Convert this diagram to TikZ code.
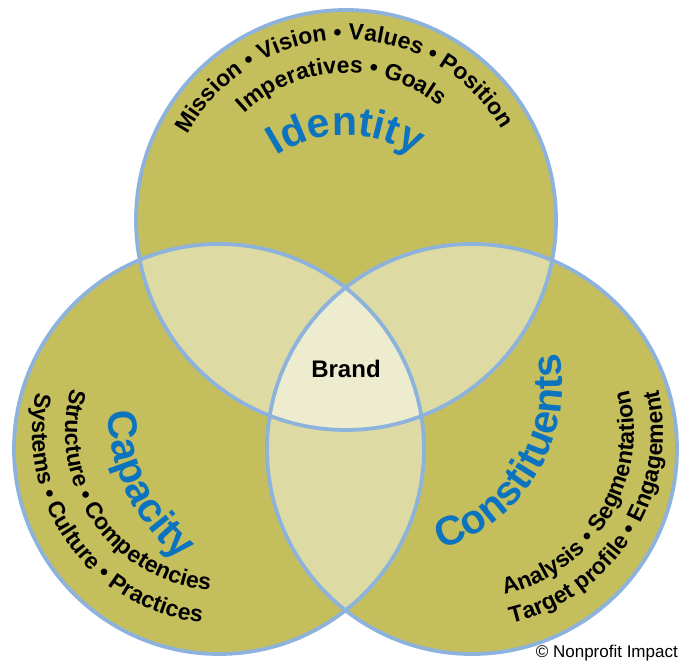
\documentclass[tikz,border=0pt]{standalone}
\usepackage{fontspec}
\setmainfont{Liberation Sans}
\usetikzlibrary{decorations.text}
\definecolor{olivefill}{RGB}{197,190,93}
\definecolor{lensfill}{RGB}{221,219,163}
\definecolor{corefill}{RGB}{237,236,206}
\definecolor{ringblue}{RGB}{141,179,221}
\definecolor{wordblue}{RGB}{12,116,190}
\newcommand\blk{\fontsize{23}{23}\selectfont\bfseries}
\newcommand\blu{\fontsize{41}{41}\selectfont\bfseries\color{wordblue}}
\tikzset{
  ring/.style={draw=ringblue, line width=3.8pt},
}
\begin{document}
\begin{tikzpicture}[x=1pt,y=1pt]
\useasboundingbox (0,0) rectangle (680,662);
\fill[white] (0,0) rectangle (680,662);
% centres (y up)
\coordinate (ct) at (346,442);
\coordinate (cl) at (219,213);
\coordinate (cr) at (472,213);
% base fills
\fill[olivefill] (ct) circle[radius=210];
\fill[olivefill] (cl) circle[radius=205];
\fill[olivefill] (cr) circle[radius=205];
% pairwise overlaps
\begin{scope}
  \clip (ct) circle[radius=210];
  \fill[lensfill] (cl) circle[radius=205];
  \fill[lensfill] (cr) circle[radius=205];
\end{scope}
\begin{scope}
  \clip (cl) circle[radius=205];
  \fill[lensfill] (cr) circle[radius=205];
\end{scope}
% triple overlap
\begin{scope}
  \clip (ct) circle[radius=210];
  \clip (cl) circle[radius=205];
  \fill[corefill] (cr) circle[radius=205];
\end{scope}
% rings
\draw[ring] (ct) circle[radius=210];
\draw[ring] (cl) circle[radius=205];
\draw[ring] (cr) circle[radius=205];

% ---- Identity circle texts (clockwise arcs) ----
\path[decorate, decoration={text along path, text align=center,
  text={|\blk|Mission • Vision • Values • Position}}]
  ([shift={(346,442)}]171:180) arc[start angle=171, end angle=11, radius=180];
\path[decorate, decoration={text along path, text align=center,
  text={|\blk|Imperatives • Goals}}]
  ([shift={(346,442)}]172:147) arc[start angle=172, end angle=12, radius=147];
\path[decorate, decoration={text along path, text align=center,
  text={|\blu|Identity}}]
  ([shift={(346,400)}]170:127) arc[start angle=170, end angle=10, radius=127];

% ---- Capacity circle texts (counter-clockwise arcs) ----
\path[decorate, decoration={text along path, text align=center,
  text={|\blk|Systems • Culture • Practices}}]
  ([shift={(224,230)}]135.7:192) arc[start angle=135.7, end angle=295.7, radius=192];
\path[decorate, decoration={text along path, text align=center,
  text={|\blk|Structure • Competencies}}]
  ([shift={(224,230)}]134.5:159) arc[start angle=134.5, end angle=294.5, radius=159];
\path[decorate, decoration={text along path, text align=center,
  text={|\blu|Capacity}}]
  ([shift={(300,252)}]126:192) arc[start angle=126, end angle=286, radius=192];

% ---- Constituents circle texts (counter-clockwise arcs) ----
\path[decorate, decoration={text along path, text align=center,
  text={|\blk|Target profile • Engagement}}]
  ([shift={(467,230)}]-112.2:196) arc[start angle=-112.2, end angle=47.8, radius=196];
\path[decorate, decoration={text along path, text align=center,
  text={|\blk|Analysis • Segmentation}}]
  ([shift={(467,230)}]-111.2:167) arc[start angle=-111.2, end angle=48.8, radius=167];
\path[decorate, decoration={text along path, text align=center,
  text={|\blu|Constituents}}]
  ([shift={(392,276)}]-111:170) arc[start angle=-111, end angle=49, radius=170];

% ---- centre and credit ----
\node[font=\fontsize{24}{24}\selectfont\bfseries] (brand) at (346,293) {Brand};
\node[anchor=base east, font=\fontsize{17}{17}\selectfont, inner sep=0pt] (credit) at (678,5) {© Nonprofit Impact};
\end{tikzpicture}
\end{document}
